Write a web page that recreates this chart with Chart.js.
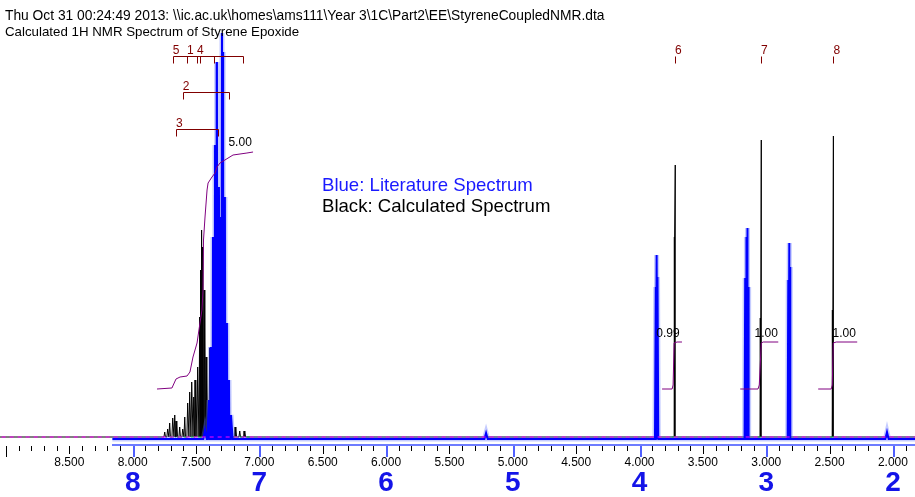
<!DOCTYPE html>
<html>
<head>
<meta charset="utf-8">
<script src="https://cdn.jsdelivr.net/npm/chart.js@4.4.1/dist/chart.umd.min.js"></script>
<style>
html, body { margin: 0; padding: 0; background: #fff; }
#caja { position: relative; width: 915px; height: 497px; }
</style>
</head>
<body>
<div id="caja"><canvas id="grafica"></canvas></div>
<script>
// Textos de la cabecera y leyenda
const cabecera = [
    'Thu Oct 31 00:24:49 2013: \\\\ic.ac.uk\\homes\\ams111\\Year 3\\1C\\Part2\\EE\\StyreneCoupledNMR.dta',
    'Calculated 1H NMR Spectrum of Styrene Epoxide'
];
const leyenda = ['Blue: Literature Spectrum', 'Black: Calculated Spectrum'];

// Rango del eje (ppm)
const ppmMin = 1.826;
const ppmMax = 9.047;

// Espectro de literatura (azul): desplazamiento (ppm) y altura
const azulPpm = [7.429, 7.398, 7.382, 7.366, 7.350, 7.335, 7.319, 7.303, 7.295, 7.287, 7.272, 7.256, 7.240, 7.224,
    5.211, 3.872, 3.865, 3.858, 3.166, 3.158, 3.151, 3.145, 3.139, 2.826, 2.818, 2.810, 2.047];
const azulAltura = [7, 37, 90, 200, 292, 375, 250, 220, 404, 385, 240, 114, 57, 22,
    4, 150, 182, 160, 159, 200, 209, 190, 150, 157, 194, 170, 5];

// Espectro calculado (negro)
const negroPpm = [7.747, 7.724, 7.708, 7.684, 7.668, 7.652, 7.629, 7.605, 7.589, 7.566, 7.550, 7.534, 7.518, 7.502,
    7.487, 7.471, 7.463, 7.455, 7.447, 7.431, 7.415, 7.392, 7.376, 7.352, 7.329, 7.313, 7.289, 7.265, 7.242,
    7.218, 7.186, 7.155, 7.115, 3.723, 3.719, 3.043, 3.039, 2.474, 2.470];
const negroAltura = [5, 8, 14, 19, 22, 16, 10, 8, 20, 34, 45, 55, 40, 57,
    70, 120, 167, 207, 190, 147, 80, 89, 39, 60, 50, 25, 24, 15, 12,
    8, 10, 6, 6, 200, 272, 119, 297, 127, 301];

// Curvas de integral (morado)
const integralAroPpm = [7.808, 7.690, 7.658, 7.626, 7.571, 7.548, 7.524, 7.492, 7.469, 7.453, 7.445, 7.441, 7.429,
    7.413, 7.405, 7.374, 7.350, 7.334, 7.311, 7.272, 7.208, 7.098, 7.050];
const integralAroValor = [48, 49, 58, 60, 61, 65, 80, 94, 114, 127, 147, 197, 220, 247, 254, 260, 264, 270, 274, 277, 282, 284, 285];
const integral6Ppm = [3.822, 3.743, 3.735, 3.727, 3.704, 3.665];
const integral7Ppm = [3.205, 3.065, 3.055, 3.039, 3.024, 2.905];
const integral8Ppm = [2.590, 2.487, 2.479, 2.471, 2.448, 2.282];
const integralPasoValor = [48, 48, 52, 94, 95, 95];
const integralEtiquetas = ['5.00', '0.99', '1.00', '1.00'];
const integralEtiquetaPpm = [7.152, 3.775, 3.000, 2.384];
const integralEtiquetaValor = [294, 103, 103, 103];

// Asignaciones (corchetes rojo oscuro)
const asignaciones = [
    { etiquetas: ['5', '1', '4'], etiquetaPpm: [7.684, 7.571, 7.492], marcas: [7.684, 7.571, 7.492, 7.469, 7.358, 7.129], valor: 381 },
    { etiquetas: ['2'], etiquetaPpm: [7.605], marcas: [7.605, 7.242], valor: 345 },
    { etiquetas: ['3'], etiquetaPpm: [7.658], marcas: [7.658, 7.329], valor: 308 },
    { etiquetas: ['6'], etiquetaPpm: [3.720], marcas: [3.720], valor: 381 },
    { etiquetas: ['7'], etiquetaPpm: [3.041], marcas: [3.041], valor: 381 },
    { etiquetas: ['8'], etiquetaPpm: [2.470], marcas: [2.470], valor: 381 }
];

// Tramos verdes de la línea base
const verdeTramos = [[7.706, 7.073], [3.745, 3.690], [3.070, 3.020], [2.495, 2.455]];

// Números grandes del eje de literatura
const numerosGrandes = [8, 7, 6, 5, 4, 3, 2];
const inicioLiteratura = 8.16;

function picos(ppm, alturas, media, base, desde, hasta) {
    const pts = [];
    ppm.forEach((s, i) => {
        pts.push({ x: s + media, y: base }, { x: s, y: alturas[i] }, { x: s - media, y: base });
    });
    pts.push({ x: desde, y: base }, { x: hasta, y: base });
    pts.sort((a, b) => a.x - b.x);
    return pts;
}
function pares(xs, ys) { return xs.map((x, i) => ({ x: x, y: ys[i] })); }

const datosAzul = picos(azulPpm, azulAltura, 0.013, -2, inicioLiteratura, 1.80);
const datosNegro = picos(negroPpm, negroAltura, 0.006, 0, ppmMax + 0.05, ppmMin - 0.05);
const datosVerde = [];
verdeTramos.forEach(t => { datosVerde.push({ x: t[0], y: 0 }, { x: t[1], y: 0 }, { x: t[1] - 0.001, y: null }); });

const morado = '#800080';
const lineaComun = { pointRadius: 0, tension: 0, fill: false };

const decoraciones = {
    id: 'decoraciones',
    afterDatasetsDraw(chart) {
        const ctx = chart.ctx;
        const x = chart.scales.x;
        const y = chart.scales.y;
        const fondo = Math.round(y.getPixelForValue(-9));
        ctx.save();
        // líneas del marco de literatura
        const xi = Math.round(x.getPixelForValue(inicioLiteratura));
        ctx.fillStyle = 'rgba(60,80,255,0.75)';
        ctx.fillRect(xi, fondo - 2, chart.width - xi, 2);
        // números grandes
        ctx.fillStyle = '#1414e8';
        ctx.font = 'bold 28px "Liberation Sans"';
        ctx.textAlign = 'center';
        ctx.textBaseline = 'middle';
        numerosGrandes.forEach(n => ctx.fillText(String(n), x.getPixelForValue(n), 483));
        // etiquetas de integrales
        ctx.fillStyle = '#000';
        ctx.font = '12px "Liberation Sans"';
        integralEtiquetas.forEach((t, i) => {
            ctx.fillText(t, x.getPixelForValue(integralEtiquetaPpm[i]), y.getPixelForValue(integralEtiquetaValor[i]));
        });
        // asignaciones
        ctx.strokeStyle = '#800000';
        ctx.fillStyle = '#800000';
        ctx.lineWidth = 1;
        ctx.textAlign = 'left';
        ctx.textBaseline = 'alphabetic';
        asignaciones.forEach(a => {
            const py = Math.round(y.getPixelForValue(a.valor)) + 0.5;
            const xs = a.marcas.map(m => Math.round(x.getPixelForValue(m)) + 0.5);
            ctx.beginPath();
            if (xs.length > 1) { ctx.moveTo(xs[0], py); ctx.lineTo(xs[xs.length - 1], py); }
            xs.forEach(px => { ctx.moveTo(px, py); ctx.lineTo(px, py + 7); });
            ctx.stroke();
            a.etiquetas.forEach((e, i) => ctx.fillText(e, x.getPixelForValue(a.etiquetaPpm[i]), py - 3));
        });
        // cabecera
        ctx.fillStyle = '#000';
        ctx.font = '13.8px "Liberation Sans"';
        ctx.fillText(cabecera[0], 5, 20);
        ctx.font = '13.3px "Liberation Sans"';
        ctx.fillText(cabecera[1], 5, 36);
        // leyenda
        ctx.font = '18.6px "Liberation Sans"';
        ctx.fillStyle = '#1a1aff';
        ctx.fillText(leyenda[0], 322, 191);
        ctx.fillStyle = '#000';
        ctx.fillText(leyenda[1], 322, 212);
        ctx.restore();
    },
    afterDraw(chart) {
        // marcas del eje, cada 0.1 ppm
        const ctx = chart.ctx;
        const x = chart.scales.x;
        const fondo = Math.round(chart.scales.y.getPixelForValue(-9));
        ctx.save();
        for (let d = 19; d <= 90; d++) {
            const v = d / 10;
            const px = Math.round(x.getPixelForValue(v));
            let largo = 5, color = '#000000', ancho = 1;
            if (d % 10 === 0) {
                largo = 11;
                if (v <= inicioLiteratura) { color = '#5060ff'; ancho = 2; }
            } else if (d % 5 === 0) {
                largo = 8;
            }
            ctx.fillStyle = color;
            ctx.fillRect(px, fondo, ancho, largo);
        }
        ctx.restore();
    }
};

new Chart(document.querySelector('#grafica'), {
    type: 'line',
    data: {
        datasets: [
            { ...lineaComun, data: [{ x: ppmMax + 0.05, y: 0 }, { x: ppmMin - 0.05, y: 0 }], borderColor: '#ff00ff', borderWidth: 1, borderDash: [4, 4], order: 0 },
            { ...lineaComun, data: pares(integralAroPpm, integralAroValor), borderColor: morado, borderWidth: 1, order: 1 },
            { ...lineaComun, data: pares(integral6Ppm, integralPasoValor), borderColor: morado, borderWidth: 1, order: 1 },
            { ...lineaComun, data: pares(integral7Ppm, integralPasoValor), borderColor: morado, borderWidth: 1, order: 1 },
            { ...lineaComun, data: pares(integral8Ppm, integralPasoValor), borderColor: morado, borderWidth: 1, order: 1 },
            { ...lineaComun, data: datosAzul, borderColor: '#0000ff', borderWidth: 2, order: 2 },
            { ...lineaComun, data: datosAzul, borderColor: 'rgba(90,110,255,0.35)', borderWidth: 5, order: 3 },
            { ...lineaComun, data: datosVerde, borderColor: '#00d000', borderWidth: 1, borderDash: [4, 3], spanGaps: false, order: 4 },
            { ...lineaComun, data: datosNegro, borderColor: '#000', borderWidth: 1, order: 5 }
        ]
    },
    options: {
        animation: false,
        responsive: true,
        maintainAspectRatio: false,
        layout: { autoPadding: false, padding: { top: 0, left: 0, right: 0, bottom: 17 } },
        plugins: { legend: { display: false }, tooltip: { enabled: false } },
        scales: {
            x: {
                type: 'linear', reverse: true, min: ppmMin, max: ppmMax,
                grid: { display: false, drawTicks: false }, border: { display: false },
                ticks: {
                    stepSize: 0.1, autoSkip: false, maxRotation: 0, includeBounds: false, padding: 0,
                    color: '#000', font: { family: 'Liberation Sans', size: 12, lineHeight: '34px' },
                    callback: v => { const d = Math.round(v * 10); return (d % 5 === 0 && d <= 85) ? (d / 10).toFixed(3) : ''; }
                }
            },
            y: { display: false, min: -9, max: 437 }
        }
    },
    plugins: [decoraciones]
});
</script>
</body>
</html>
